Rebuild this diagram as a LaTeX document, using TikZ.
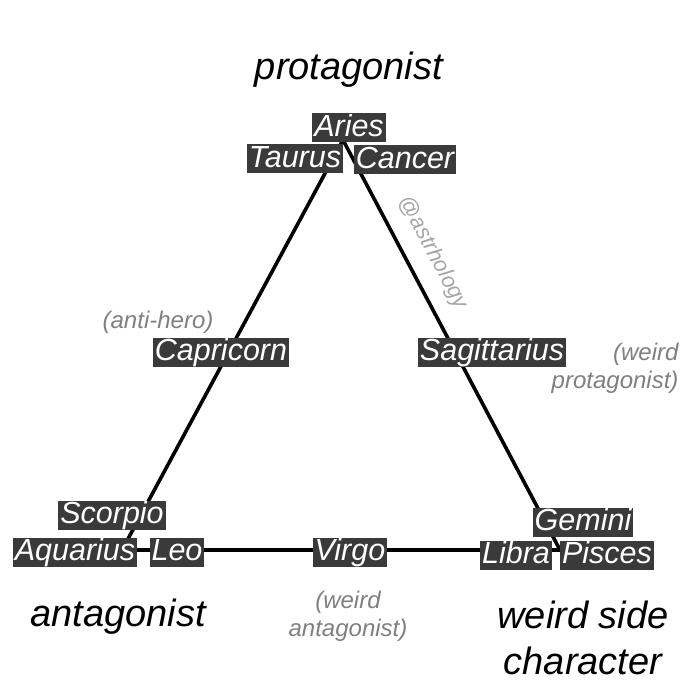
\documentclass[tikz,border=0pt]{standalone}
\usepackage{fontspec}
\setmainfont{Liberation Sans}
\begin{document}
\begin{tikzpicture}[x=1pt,y=-1pt,
  sign/.style={fill=boxc,text=white,font=\fontsize{30.5}{32}\selectfont\itshape,inner xsep=2pt,inner ysep=0pt,text height=23pt,text depth=6pt},
  note/.style={text=notec,font=\fontsize{24}{28}\selectfont\itshape,align=center},
  big/.style={font=\fontsize{38}{46}\selectfont\itshape,align=center},
  edge/.style={line width=3.6pt,black}]
\definecolor{boxc}{HTML}{3A3A3A}
\definecolor{notec}{HTML}{808080}
\useasboundingbox[fill=white] (0,0) rectangle (700,700);
\coordinate (T) at (343,140);
\coordinate (L) at (122,550);
\coordinate (R) at (560,550);
\draw[edge] (T) -- (L) -- (R) -- cycle;
\node[sign] (aries) at (349,128) {Aries};
\node[sign] (taurus) at (295,159) {Taurus};
\node[sign] (cancer) at (405,160) {Cancer};
\node[sign] (capricorn) at (221,352) {Capricorn};
\node[sign] (sagittarius) at (492,352) {Sagittarius};
\node[sign] (scorpio) at (112,515) {Scorpio};
\node[sign] (aquarius) at (75,552) {Aquarius};
\node[sign] (leo) at (177,552) {Leo};
\node[sign] (virgo) at (350,552) {Virgo};
\node[sign] (libra) at (516,555) {Libra};
\node[sign] (gemini) at (583,522) {Gemini};
\node[sign] (pisces) at (607,555) {Pisces};
\node[note] (antihero) at (158,322) {(anti-hero)};
\node[note,align=right,anchor=east] (wprot) at (682,368) {(weird\\protagonist)};
\node[note] (want) at (348,616) {(weird\\antagonist)};
\node[text=notec!70,font=\fontsize{22}{24}\selectfont\itshape,rotate=-62] (handle) at (433,253) {@astrhology};
\node[big] (prot) at (349,70) {protagonist};
\node[big] (antag) at (118,617) {antagonist};
\node[big] (side) at (583,638) {weird side\\character};
\end{tikzpicture}
\end{document}
